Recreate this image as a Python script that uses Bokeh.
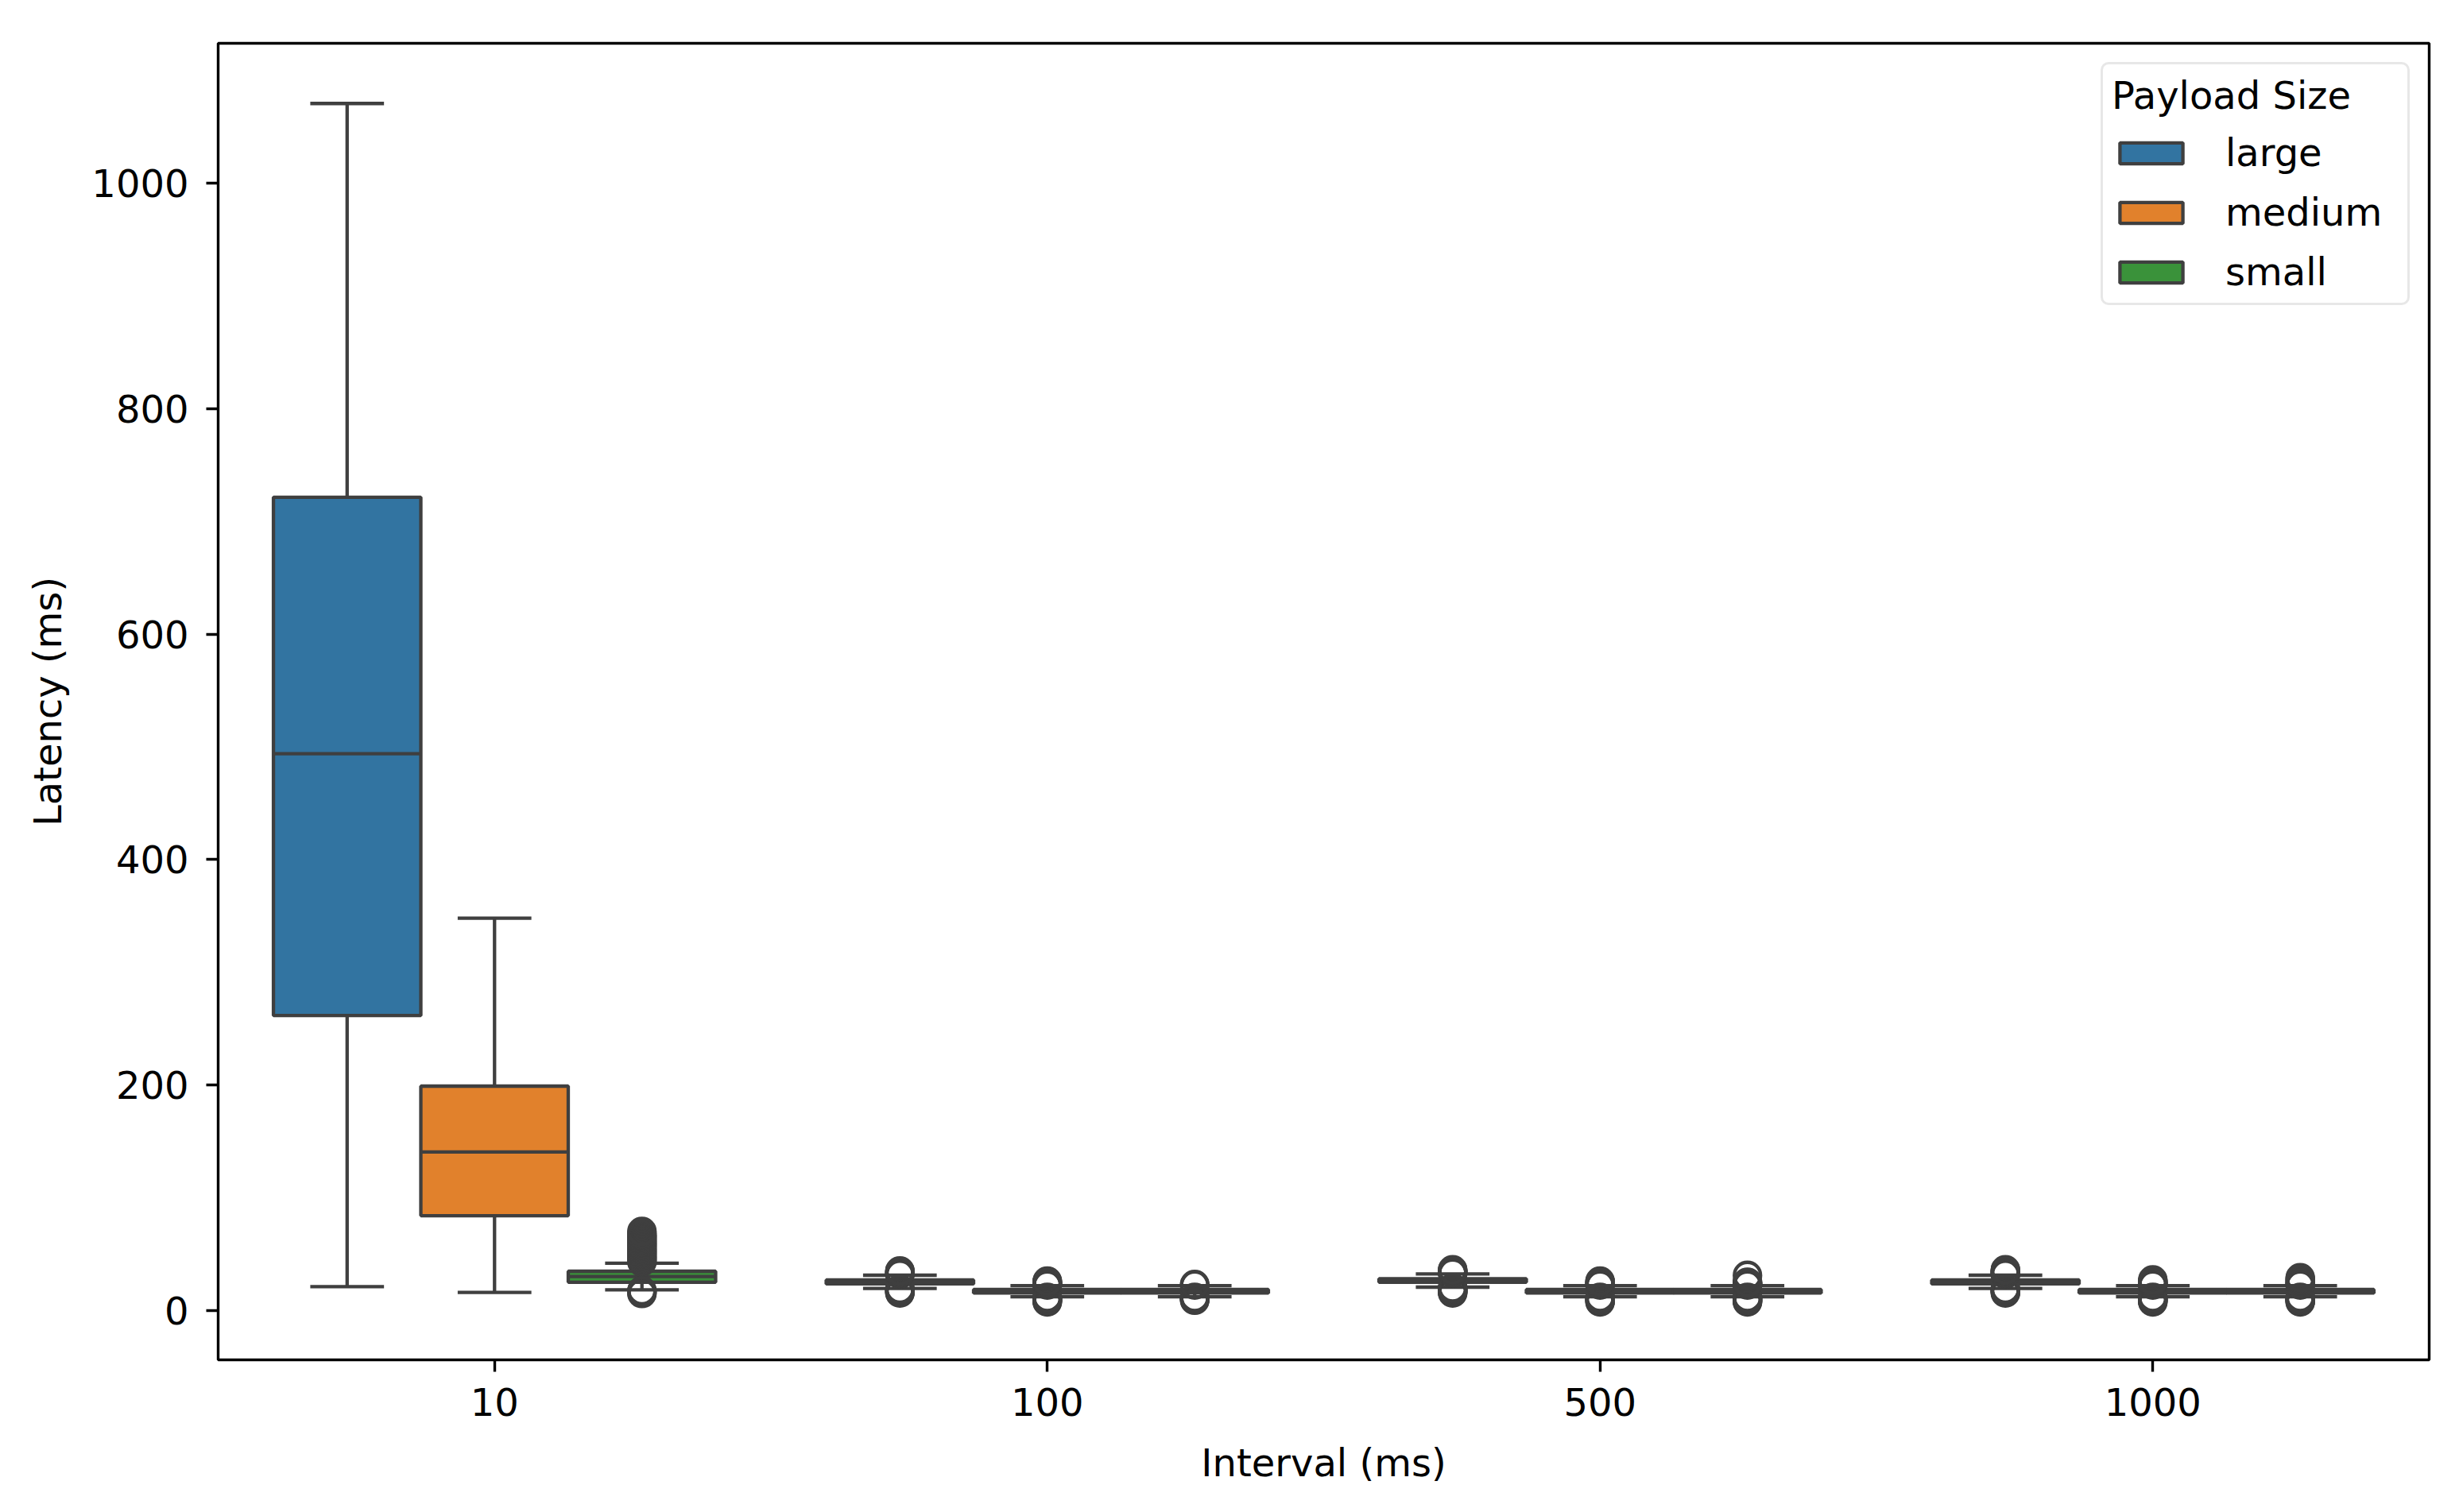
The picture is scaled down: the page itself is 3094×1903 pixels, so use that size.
from bokeh.plotting import figure
from bokeh.models import (ColumnDataSource, FactorRange, Range1d, FixedTicker,
                          Legend, LegendItem)
from bokeh.transform import dodge
from bokeh.embed import file_html
from bokeh.resources import INLINE

# ---------------- data ----------------
intervals = ["10", "100", "500", "1000"]
hues = ["large", "medium", "small"]
colors = ["#3274a1", "#e1812c", "#3a923a"]

large_q1 = [261.6, 23.5, 25.0, 23.5]
large_med = [494.0, 25.0, 26.5, 25.0]
large_q3 = [721.6, 27.0, 28.0, 27.0]
large_lo = [21.0, 19.5, 20.6, 19.5]
large_hi = [1071.0, 31.2, 32.4, 31.2]
large_fliers = [[],
                [15.5, 16, 16.5, 17, 17.5, 18, 18.5, 19, 32, 32.5, 33, 33.5, 34, 34.5, 35],
                [15.5, 16, 16.5, 17, 17.5, 18, 18.5, 19, 19.5, 20, 33, 33.5, 34, 34.5, 35, 35.5, 36],
                [15.5, 16, 16.5, 17, 17.5, 18, 18.5, 19, 32, 32.5, 33, 33.5, 34, 34.5, 35, 35.5, 36]]

medium_q1 = [84.0, 15.5, 15.5, 15.5]
medium_med = [140.6, 17.0, 17.0, 17.0]
medium_q3 = [199.0, 18.5, 18.5, 18.5]
medium_lo = [16.0, 12.0, 12.0, 12.0]
medium_hi = [348.0, 22.0, 22.0, 22.0]
medium_fliers = [[],
                 [7.5, 8, 8.5, 9, 9.5, 10, 10.5, 11, 11.5, 22.5, 23, 23.5, 24, 24.5, 25, 25.5, 26],
                 [7.5, 8, 8.5, 9, 9.5, 10, 10.5, 11, 11.5, 22.5, 23, 23.5, 24, 24.5, 25, 25.5, 26],
                 [7.5, 8, 8.5, 9, 9.5, 10, 10.5, 11, 11.5, 22.5, 23, 23.5, 24, 24.5, 25, 25.5, 26, 27]]

small_q1 = [25.0, 15.5, 15.5, 15.5]
small_med = [30.0, 17.0, 17.0, 17.0]
small_q3 = [34.7, 18.5, 18.5, 18.5]
small_lo = [18.3, 12.0, 12.0, 12.0]
small_hi = [41.8, 22.0, 22.0, 22.0]
small_fliers = [[15, 16, 17, 17.5, 43, 44, 45, 46, 47, 48, 49, 50, 51, 52, 53, 54, 55, 56,
                 57, 58, 59, 60, 61, 62, 63, 64, 65, 66, 67, 68, 70],
                [9, 9.5, 10, 10.5, 11, 11.5, 22.5, 23],
                [7.5, 8, 8.5, 9, 9.5, 10, 10.5, 11, 11.5, 22.5, 23, 23.5, 24, 24.5, 25, 31],
                [7.5, 8, 8.5, 9, 9.5, 10, 10.5, 11, 11.5, 22.5, 23, 23.5, 24, 25, 26, 27, 28, 29]]

y_ticks = [0, 200, 400, 600, 800, 1000]

stats = {
    "large": (large_q1, large_med, large_q3, large_lo, large_hi, large_fliers),
    "medium": (medium_q1, medium_med, medium_q3, medium_lo, medium_hi, medium_fliers),
    "small": (small_q1, small_med, small_q3, small_lo, small_hi, small_fliers),
}

# ---------------- styling ----------------
FONT = "DejaVu Sans"
FS = "48px"
EDGE = "#3f3f3f"
LW = 4.3
BOX_W = 0.8 / 3

p = figure(
    x_range=FactorRange(factors=intervals, range_padding=0),
    y_range=Range1d(-43.9, 1124.4),
    frame_width=2782, frame_height=1657,
    min_border_left=274, min_border_top=54, min_border_right=20, min_border_bottom=170,
    output_backend="svg", toolbar_location=None,
    background_fill_color="white", border_fill_color="white",
)
p.xgrid.visible = False
p.ygrid.visible = False
p.outline_line_color = "black"
p.outline_line_width = 3.4

for ax in (p.xaxis[0], p.yaxis[0]):
    ax.axis_line_color = None
    ax.major_tick_line_color = "black"
    ax.major_tick_line_width = 3.4
    ax.major_tick_out = 15
    ax.major_tick_in = 0
    ax.minor_tick_line_color = None
    ax.major_label_text_font = FONT
    ax.major_label_text_font_size = FS
    ax.major_label_text_color = "black"
    ax.axis_label_text_font = FONT
    ax.axis_label_text_font_size = FS
    ax.axis_label_text_font_style = "normal"
    ax.axis_label_text_color = "black"

p.yaxis[0].ticker = FixedTicker(ticks=y_ticks)
p.yaxis[0].major_label_standoff = 22
p.yaxis[0].axis_label_standoff = 24
p.yaxis[0].axis_label = "Latency (ms)"
p.xaxis[0].major_label_standoff = 20
p.xaxis[0].axis_label_standoff = 28
p.xaxis[0].axis_label = "Interval (ms)"

legend_items = []
for i, hue in enumerate(hues):
    q1, med, q3, lo, hi, fl = stats[hue]
    off = (i - 1) * BOX_W
    src = ColumnDataSource(dict(interval=intervals, q1=q1, med=med, q3=q3, lo=lo, hi=hi))
    xc = dodge("interval", off, range=p.x_range)
    box = p.vbar(x=xc, width=BOX_W, bottom="q1", top="q3", source=src,
                 fill_color=colors[i], line_color=EDGE, line_width=LW)
    p.segment(x0=xc, y0="q3", x1=xc, y1="hi", source=src, line_color=EDGE, line_width=LW)
    p.segment(x0=xc, y0="q1", x1=xc, y1="lo", source=src, line_color=EDGE, line_width=LW)
    cl = dodge("interval", off - BOX_W / 4, range=p.x_range)
    cr = dodge("interval", off + BOX_W / 4, range=p.x_range)
    p.segment(x0=cl, y0="hi", x1=cr, y1="hi", source=src, line_color=EDGE, line_width=LW)
    p.segment(x0=cl, y0="lo", x1=cr, y1="lo", source=src, line_color=EDGE, line_width=LW)
    ml = dodge("interval", off - BOX_W / 2, range=p.x_range)
    mr = dodge("interval", off + BOX_W / 2, range=p.x_range)
    p.segment(x0=ml, y0="med", x1=mr, y1="med", source=src, line_color=EDGE, line_width=LW)

    fx, fy = [], []
    for cat, vals in zip(intervals, fl):
        for v in vals:
            fx.append(cat)
            fy.append(v)
    fsrc = ColumnDataSource(dict(interval=fx, y=fy))
    p.scatter(x=xc, y="y", source=fsrc, marker="circle", size=33,
              fill_color=None, line_color=EDGE, line_width=LW)
    legend_items.append(LegendItem(label=hue, renderers=[box]))

legend = Legend(items=legend_items, location="top_right")
legend.title = "Payload Size"
legend.title_text_font = FONT
legend.title_text_font_size = FS
legend.title_text_font_style = "normal"
legend.title_text_color = "black"
legend.title_standoff = 16
legend.label_text_font = FONT
legend.label_text_font_size = FS
legend.label_text_color = "black"
legend.glyph_width = 99
legend.glyph_height = 33
legend.label_standoff = 44
legend.label_height = 48
legend.label_width = 218
legend.spacing = 19
legend.padding = 11
legend.margin = 24
legend.border_line_color = "#d0d0d0"
legend.border_line_width = 3
legend.border_radius = 10
legend.background_fill_color = "white"
legend.background_fill_alpha = 0.8
p.add_layout(legend)

open("out.html", "w").write(file_html(p, INLINE))
